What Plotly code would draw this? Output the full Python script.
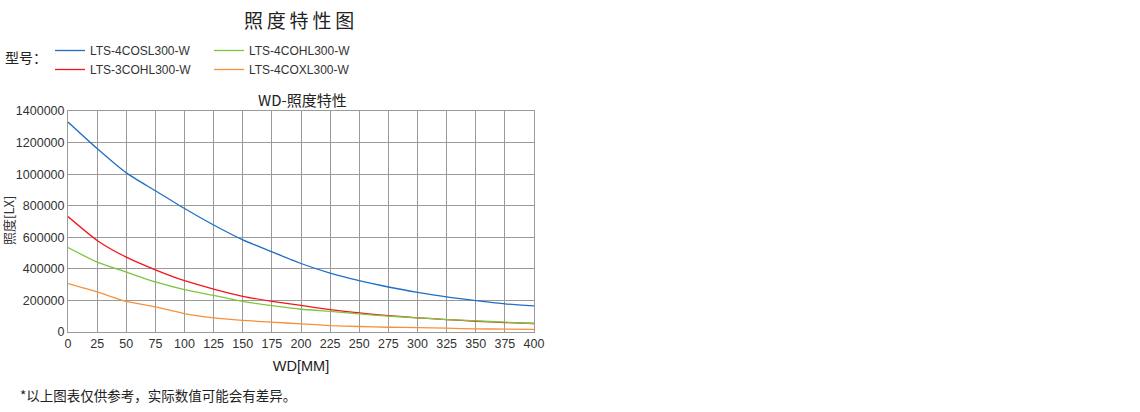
import plotly.graph_objects as go

wd = [0, 25, 50, 75, 100, 125, 150, 175, 200, 225, 250, 275, 300, 325, 350, 375, 400]
s_4cosl = [1330000, 1162000, 1008000, 895000, 782000, 678000, 584000, 508000, 434000, 373000, 325000, 285000, 251000, 222000, 199000, 178000, 165000]
s_3cohl = [731000, 580000, 474000, 394000, 325000, 272000, 226000, 194000, 168000, 142000, 121000, 104000, 90000, 79000, 68000, 60000, 54000]
s_4cohl = [535000, 443000, 380000, 317000, 268000, 232000, 194000, 167000, 144000, 131000, 115000, 100000, 90000, 79000, 71000, 62000, 54000]
s_4coxl = [306000, 254000, 194000, 159000, 117000, 90000, 74000, 62000, 52000, 41000, 35000, 30000, 28000, 24000, 20000, 18000, 16000]

names = ["LTS-4COSL300-W", "LTS-3COHL300-W", "LTS-4COHL300-W", "LTS-4COXL300-W"]
colors = ["#1f6fc8", "#f5141e", "#7cc63c", "#f7903a"]
legends = ["legend", "legend", "legend2", "legend2"]
series = [s_4cosl, s_3cohl, s_4cohl, s_4coxl]

x_ticks = list(range(0, 401, 25))
y_ticks = list(range(0, 1400001, 200000))

CJK = "Noto Sans CJK SC"
LAT = "Liberation Sans, Arial, sans-serif"

fig = go.Figure()
for n, c, lg, s in zip(names, colors, legends, series):
    fig.add_trace(go.Scatter(x=wd, y=s, mode="lines", name=n,
                             line=dict(color=c, width=1.3, shape="spline", smoothing=0.6),
                             legend=lg))

leg_common = dict(yref="container", xref="container", xanchor="left", yanchor="top",
                  orientation="v", font=dict(family=LAT, size=12, color="#333"),
                  tracegroupgap=0, itemwidth=30, bgcolor="rgba(0,0,0,0)")

fig.update_layout(
    width=1140, height=412,
    margin=dict(l=68, r=606, t=111, b=80, autoexpand=False),
    paper_bgcolor="white", plot_bgcolor="white",
    font=dict(family=LAT, color="#333", size=12),
    showlegend=True,
    legend=dict(x=50 / 1140, y=1 - 36 / 412, **leg_common),
    legend2=dict(x=209 / 1140, y=1 - 36 / 412, **leg_common),
    xaxis=dict(range=[0, 400], tickvals=x_ticks, ticktext=[str(v) for v in x_ticks],
               showgrid=True, gridcolor="#9a9a9a", gridwidth=1, zeroline=False,
               showline=True, linecolor="#9a9a9a", mirror=True, ticks="",
               tickfont=dict(family=LAT, size=12.5, color="#333"),
               title=dict(text="WD[MM]", font=dict(family=LAT, size=14.5, color="#222"), standoff=10)),
    yaxis=dict(range=[0, 1400000], tickvals=y_ticks, ticktext=[str(v) for v in y_ticks],
               showgrid=True, gridcolor="#9a9a9a", gridwidth=1, zeroline=False,
               showline=True, linecolor="#9a9a9a", mirror=True, ticks="",
               tickfont=dict(family=LAT, size=12.5, color="#333")),
)

fig.add_annotation(text="照\u2009度\u2009特\u2009性\u2009图", xref="paper", yref="paper",
                   x=(299 - 68) / 466, y=(332 - 20) / 221, yanchor="middle",
                   showarrow=False, font=dict(family=CJK, size=19, color="#222"))
fig.add_annotation(text="WD-照度特性", xref="paper", yref="paper",
                   x=(302 - 68) / 466, y=(332 - 99) / 221, yanchor="middle",
                   showarrow=False, font=dict(family=CJK, size=15, color="#222"))
fig.add_annotation(text="照度[LX]", xref="paper", yref="paper", textangle=-90,
                   x=(8 - 68) / 466, y=(332 - 221) / 221, xanchor="center", yanchor="middle",
                   showarrow=False, font=dict(family=CJK, size=13, color="#333"))
fig.add_annotation(text="型号：", xref="paper", yref="paper", x=(3 - 68) / 466, xanchor="left",
                   y=(332 - 57) / 221, yanchor="middle",
                   showarrow=False, font=dict(family=CJK, size=14, color="#222"))
fig.add_annotation(text="*以上图表仅供参考，实际数值可能会有差异。", xref="paper", yref="paper",
                   x=(18 - 68) / 466, xanchor="left", y=(332 - 395) / 221, yanchor="middle",
                   showarrow=False, font=dict(family=CJK, size=13.5, color="#222"))

fig.write_html("out.html", config={"displayModeBar": False},
               post_script="document.body.style.margin='0';")
